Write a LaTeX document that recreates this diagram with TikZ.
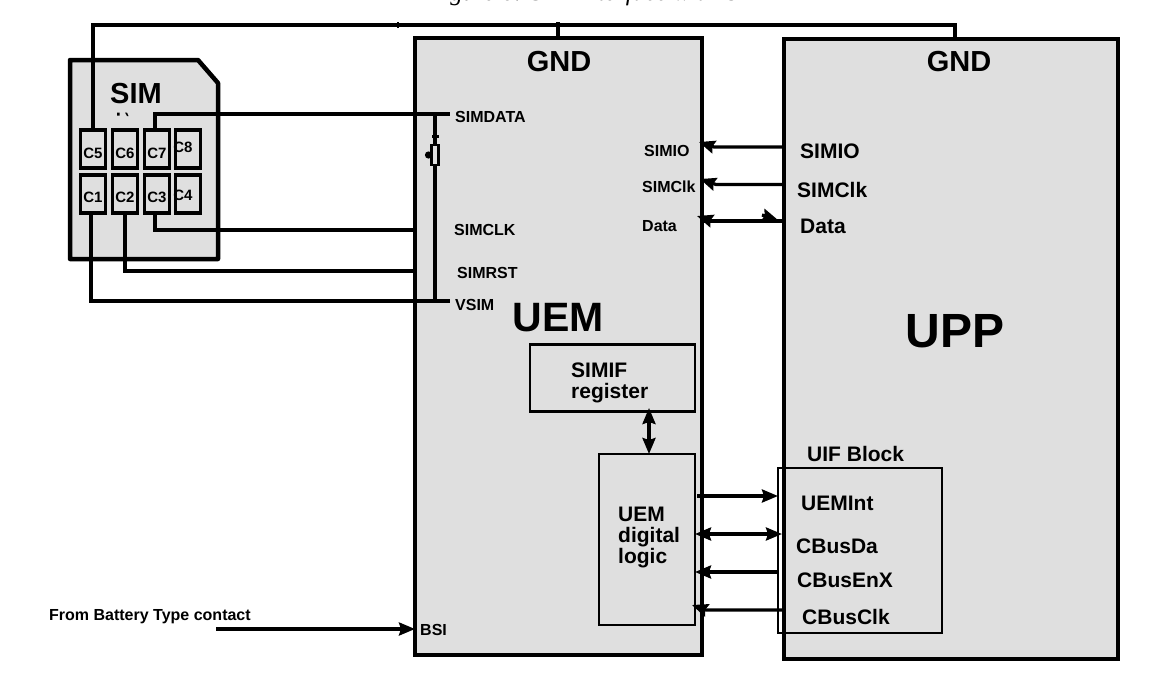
\documentclass[tikz,border=0pt]{standalone}
\usepackage{fontspec}
\setmainfont{Liberation Sans}
\newfontfamily\capfont{Liberation Serif}
\usepackage{xcolor}
\usetikzlibrary{positioning, arrows.meta, calc}
\definecolor{nInk}{HTML}{000000}
\definecolor{nFill}{HTML}{DFDFDF}
\tikzset{
  chipbox/.style={draw=nInk, fill=nFill, line width=3.6pt, anchor=north west, inner sep=0pt, outer sep=0pt},
  subbox/.style={draw=nInk, fill=nFill, line width=2.4pt, anchor=north west, inner sep=0pt, outer sep=0pt},
  padbox/.style={draw=nInk, fill=nFill, line width=3.6pt, minimum width=25pt, minimum height=38pt, inner sep=0pt, outer sep=0pt},
  wire/.style={draw=nInk, line width=3.2pt, line join=miter},
  sig/.style={draw=nInk, line width=3.2pt, -{Stealth[length=16pt,width=13pt,inset=2pt]}},
  sigboth/.style={draw=nInk, line width=3.2pt, {Stealth[length=16pt,width=13pt,inset=2pt]}-{Stealth[length=16pt,width=13pt,inset=2pt]}},
  lbl/.style={font=\fontsize{16}{16}\bfseries\selectfont, anchor=west, inner sep=0pt},
  lblbig/.style={font=\fontsize{21}{22}\bfseries\selectfont, anchor=west, inner sep=0pt, align=left},
  padlbl/.style={font=\fontsize{15}{15}\bfseries\selectfont, inner sep=0pt}
}
\begin{document}
\begin{tikzpicture}[x=1pt, y=-1pt, >=Stealth]
  \useasboundingbox (0,0) rectangle (1152,675);
  \node[font=\fontsize{25}{25}\itshape\capfont, inner sep=0pt, anchor=base west] (caption) at (428,0.5) {Figure 6: SIM interface with UEM};

  % chips
  \node[chipbox, minimum width=287pt, minimum height=617pt] (uem) at (415,38) {};
  \node[chipbox, minimum width=334pt, minimum height=620pt] (upp) at (784,39) {};

  % card with the cut corner
  \draw[draw=nInk, fill=nFill, line width=4.5pt, line join=round] (70,60) -- (198,60) -- (218,83) -- (218,259) -- (70,259) -- cycle;
  \foreach \k/\xx/\yy in {5/93/149,6/125/149,7/157/149,8/188/149,1/93/194,2/125/194,3/157/194,4/188/194}
    {\node[padbox] (c\k) at (\xx,\yy) {};}
  \node[padlbl] (l5) at (93,153) {C5};
  \node[padlbl] (l6) at (125,153) {C6};
  \node[padlbl] (l7) at (157,153) {C7};
  \node[padlbl] (l8) at (183,147) {C8};
  \node[padlbl] (l1) at (93,197) {C1};
  \node[padlbl] (l2) at (125,197) {C2};
  \node[padlbl] (l3) at (157,197) {C3};
  \node[padlbl] (l4) at (183,195) {C4};
  \node[font=\fontsize{29}{29}\bfseries\selectfont, anchor=west, inner sep=0pt] (simlbl) at (110,94) {SIM};
  \fill[nInk] (117,112.5) rectangle (119.5,115.5) (125,112.5) -- (127,112.5) -- (128.5,116) -- (127,116) -- cycle;

  % inner blocks
  \node[subbox, minimum width=165pt, minimum height=67pt] (simif) at (530,344.5) {};
  \node[subbox, minimum width=96pt, minimum height=171pt] (digi) at (599,454) {};
  \node[draw=nInk, line width=2.4pt, anchor=north west, inner sep=0pt, outer sep=0pt, minimum width=164pt, minimum height=165pt] (uif) at (778,468) {};

  % pins
  \coordinate (gndr) at (955,25);
  \coordinate (gnduem) at (558,22);
  \coordinate (dataend) at (450,114);
  \coordinate (vsimend) at (450,301);
  \coordinate (c7up) at (155,130);
  \coordinate (c3dn) at (155,213);
  \coordinate (c1dn) at (91,213);
  \coordinate (pclk) at (415,230);
  \coordinate (prst) at (415,271);
  \coordinate (busa) at (435,114);
  \coordinate (busb) at (435,301);

  % ground line
  \draw[wire] (c5.north) |- (gndr) -- (gndr |- upp.north);
  \draw[wire] (gnduem) -- (gnduem |- uem.north);
  \fill[nInk] (396.5,22) rectangle (399,28);

  % SIM lines
  \draw[wire] (c7up) |- (dataend);
  \draw[wire] (c3dn) |- (pclk);
  \draw[wire] (c2.south) |- (prst);
  \draw[wire] (c1dn) |- (vsimend);
  \node[draw=nInk, fill=nFill, line width=2.4pt, minimum width=7pt, minimum height=20pt, inner sep=0pt, outer sep=0pt] (res) at (435,155) {};
  \draw[wire] (busa) -- (res.north);
  \draw[wire] (res.south) -- (busb);
  \fill[nInk] (431.5,135) rectangle (438.5,138);
  \fill[nInk] (428.5,155) circle (3.6pt);

  % arrows between the chips
  \coordinate (ioa) at (784,147);
  \coordinate (clka) at (784,184.5);
  \coordinate (daa) at (702,221);
  \coordinate (dab) at (784,221);
  \coordinate (intb) at (778,496);
  \coordinate (ena) at (778,572);
  \coordinate (simifb) at (649,408);
  \coordinate (digit) at (649,454);
  \coordinate (bsia) at (216,629);
  \coordinate (bsib) at (415,629);
  \draw[sig] (ioa) -- (714,147) -- (699,142);
  \draw[sig] (clka) -- (716,184.5) -- (700,179);
  \draw[wire] (daa) -- (dab);
  \draw[sig] (712,221) -- (697,216);
  \draw[sig] (762,215) -- (778,220);
  \draw[sigboth] (simifb) -- (digit);
  \draw[sig] (697,496) -- (intb);
  \draw[sigboth] (695,534) -- (782,534);
  \draw[sig] (ena) -- (695,572);
  \draw[sig] (784,610) -- (706,610) -- (692,605);
  \draw[sig] (bsia) -- (bsib);

  % labels
  \node[lbl] (simdata) at (455,117) {SIMDATA};
  \node[lbl] (simclk) at (454,230) {SIMCLK};
  \node[lbl] (simrst) at (457,273) {SIMRST};
  \node[lbl] (vsim) at (455,305) {VSIM};
  \node[lbl] (bsi) at (420,630) {BSI};
  \node[lbl] (uemio) at (644,151) {SIMIO};
  \node[lbl] (uemclk) at (642,187) {SIMClk};
  \node[lbl] (uemdata) at (642,226) {Data};
  \node[lbl] (batt) at (49,617) {From Battery Type contact};
  \node[font=\fontsize{29}{29}\bfseries\selectfont, inner sep=0pt] (gnda) at (559,62) {GND};
  \node[font=\fontsize{29}{29}\bfseries\selectfont, inner sep=0pt] (gndb) at (959,62) {GND};
  \node[font=\fontsize{41}{41}\bfseries\selectfont, inner sep=0pt] (uemlbl) at (558,318) {UEM};
  \node[font=\fontsize{48}{48}\bfseries\selectfont, inner sep=0pt] (upplbl) at (955,331) {UPP};
  \node[lblbig] (uppio) at (800,151) {SIMIO};
  \node[lblbig] (uppclk) at (797,190) {SIMClk};
  \node[lblbig] (uppdata) at (800,226) {Data};
  \node[lblbig] (simiflbl) at (571,383) {SIMIF\\[-1pt]register};
  \node[lblbig] (digilbl) at (618,537) {UEM\\[-1pt]digital\\[-1pt]logic};
  \node[lblbig] (uifname) at (807,454) {UIF Block};
  \node[lblbig] (uemint) at (801,503) {UEMInt};
  \node[lblbig] (cbusda) at (796,546) {CBusDa};
  \node[lblbig] (cbusen) at (797,580) {CBusEnX};
  \node[lblbig] (cbusclk) at (802,617) {CBusClk};
\end{tikzpicture}
\end{document}
